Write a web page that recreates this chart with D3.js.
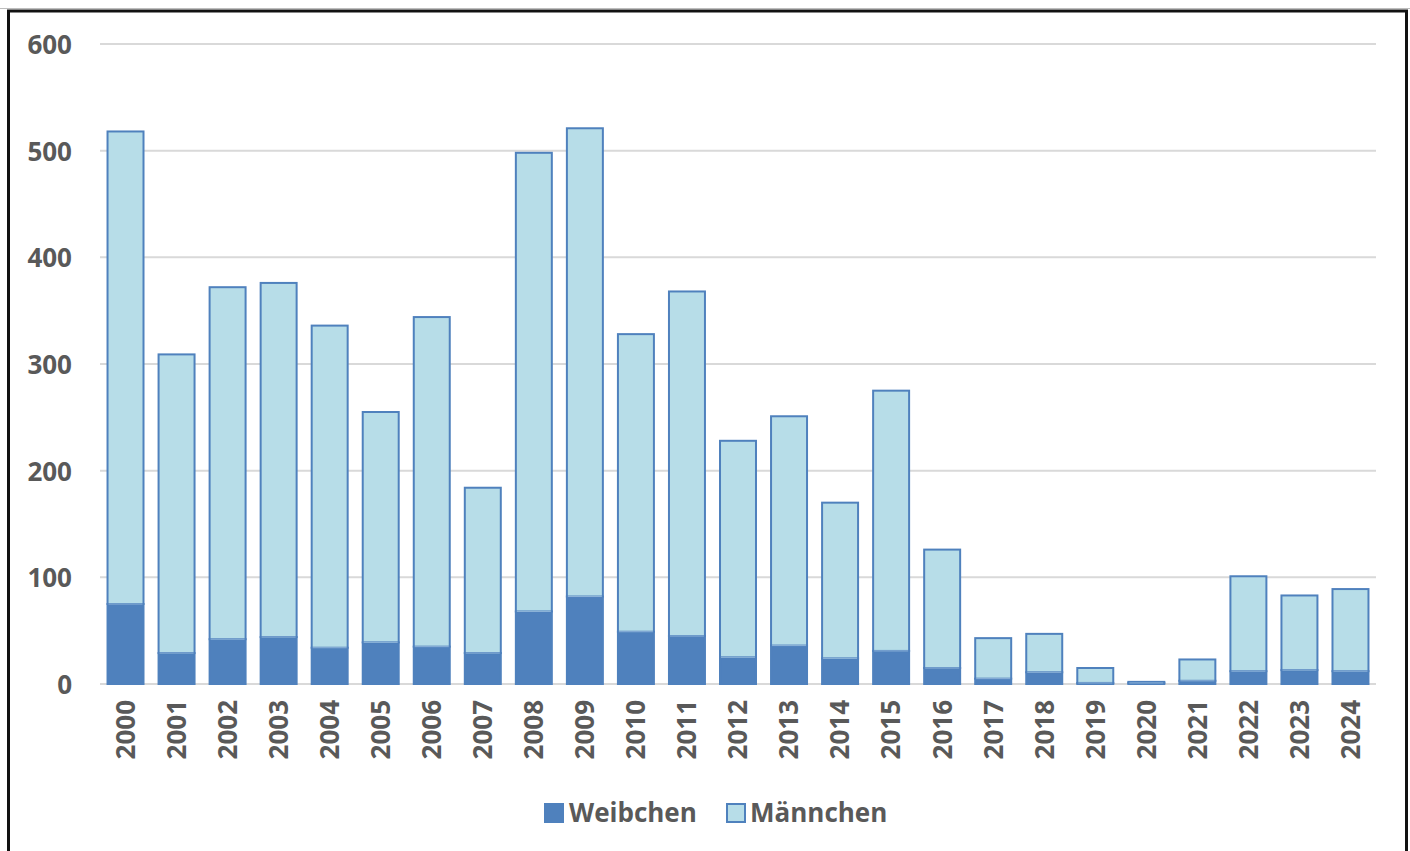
<!DOCTYPE html>
<html>
<head>
<meta charset="utf-8">
<script src="https://cdn.jsdelivr.net/npm/d3@7"></script>
<style>
  html, body { margin: 0; padding: 0; background: #fff; }
  svg { display: block; }
  text { font-family: "Open Sans", "Liberation Sans", sans-serif; font-weight: 700; fill: #595959; }
</style>
</head>
<body>
<svg id="chart" width="1410" height="851"></svg>
<script>
// Years on the category axis
const years = ["2000","2001","2002","2003","2004","2005","2006","2007","2008","2009",
               "2010","2011","2012","2013","2014","2015","2016","2017","2018","2019",
               "2020","2021","2022","2023","2024"];
// Females per year (lower segment)
const weibchen = [75, 29, 42, 44, 34, 39, 35, 29, 68, 82,
                  49, 45, 25, 36, 24, 31, 15, 5, 11, 1,
                  1, 3, 12, 13, 12];
// Males per year (upper segment)
const maennchen = [443, 280, 330, 332, 302, 216, 309, 155, 430, 439,
                   279, 323, 203, 215, 146, 244, 111, 38, 36, 14,
                   1, 20, 89, 70, 77];
const yTicks = [0, 100, 200, 300, 400, 500, 600];
const seriesNames = ["Weibchen", "Männchen"];

const svg = d3.select("#chart");

const plot = { left: 100, right: 1376, top: 44, bottom: 684 };

const x = d3.scaleBand()
  .domain(years)
  .range([plot.left, plot.right])
  .paddingInner(0.295)
  .paddingOuter(0.1475);

const y = d3.scaleLinear()
  .domain([0, 600])
  .range([plot.bottom, plot.top]);

// Outer frame
svg.append("line")
  .attr("x1", 0).attr("x2", 1410).attr("y1", 8.5).attr("y2", 8.5)
  .attr("stroke", "#bdbdbd").attr("stroke-width", 1);
svg.append("rect")
  .attr("x", 8.5).attr("y", 11).attr("width", 1398).attr("height", 860)
  .attr("fill", "none").attr("stroke", "#111").attr("stroke-width", 3);

// Horizontal gridlines
svg.append("g")
  .selectAll("line")
  .data(yTicks)
  .join("line")
  .attr("x1", plot.left).attr("x2", plot.right)
  .attr("y1", d => y(d)).attr("y2", d => y(d))
  .attr("stroke", "#d9d9d9").attr("stroke-width", 2);

// Y axis labels
const yAxis = d3.axisLeft(y).tickValues(yTicks).tickSize(0).tickPadding(0);
const yg = svg.append("g")
  .attr("transform", `translate(72,0)`)
  .call(yAxis);
yg.select(".domain").remove();
yg.selectAll("text")
  .attr("font-size", 26)
  .attr("font-family", null)
  .attr("fill", "#595959")
  .attr("dy", "0.36em");

// Stacked bars
const stackData = years.map((yr, i) => ({ year: yr, Weibchen: weibchen[i], "Männchen": maennchen[i] }));
const stacked = d3.stack().keys(seriesNames)(stackData);
const fills = { "Weibchen": "#4f81bd", "Männchen": "#b7dde8" };

svg.append("g")
  .selectAll("g")
  .data(stacked)
  .join("g")
  .attr("fill", d => fills[d.key])
  .selectAll("rect")
  .data(d => d)
  .join("rect")
  .attr("x", d => x(d.data.year))
  .attr("width", x.bandwidth())
  .attr("y", d => y(d[1]))
  .attr("height", d => Math.max(0, y(d[0]) - y(d[1])))
  .attr("stroke", "#4f81bd")
  .attr("stroke-width", 2);

// Thin light seam between the two segments
svg.append("g")
  .selectAll("line")
  .data(stackData)
  .join("line")
  .attr("x1", d => x(d.year) + 1).attr("x2", d => x(d.year) + x.bandwidth() - 1)
  .attr("y1", d => y(d.Weibchen)).attr("y2", d => y(d.Weibchen))
  .attr("stroke", "#8fb4d9").attr("stroke-width", 1);

// X axis labels (rotated)
const xAxis = d3.axisBottom(x).tickSize(0).tickPadding(0);
const xg = svg.append("g")
  .attr("transform", `translate(0,${plot.bottom})`)
  .call(xAxis);
xg.select(".domain").remove();
xg.selectAll("text")
  .attr("font-size", 26)
  .attr("font-family", null)
  .attr("fill", "#595959")
  .attr("text-anchor", "end")
  .attr("transform", "rotate(-90)")
  .attr("x", -16)
  .attr("y", 0)
  .attr("dy", "0.36em");

// Legend
const legendItems = [
  { name: seriesNames[0], sx: 545, tx: 569 },
  { name: seriesNames[1], sx: 727, tx: 750 }
];
const lg = svg.append("g");
legendItems.forEach(it => {
  lg.append("rect")
    .attr("x", it.sx).attr("y", 804).attr("width", 18).attr("height", 18)
    .attr("fill", fills[it.name])
    .attr("stroke", "#4f81bd").attr("stroke-width", 2);
  lg.append("text")
    .attr("x", it.tx).attr("y", 822)
    .attr("font-size", 26)
    .text(it.name);
});
</script>
</body>
</html>
